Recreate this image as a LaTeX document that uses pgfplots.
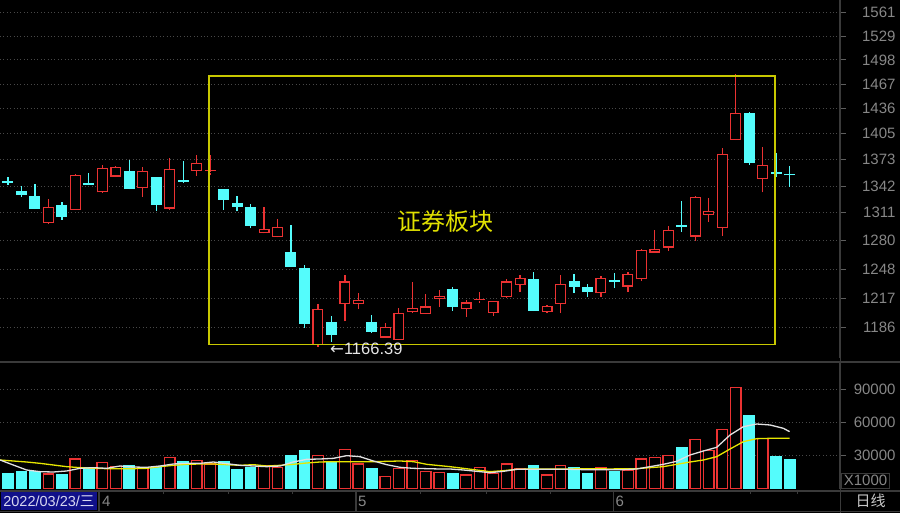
\documentclass[border=0pt]{standalone}
\usepackage{fontspec}
\setmainfont{Liberation Sans}
\newfontfamily\cjk{Noto Sans CJK SC}
\newfontfamily\dejavu{DejaVu Sans}
\usepackage{pgfplots}
\usepackage{pgfplotstable}
\pgfplotsset{compat=1.18}

\definecolor{kup}{RGB}{235,50,50}
\definecolor{kdn}{RGB}{84,252,252}
\definecolor{gridc}{RGB}{72,72,72}
\definecolor{sepc}{RGB}{58,58,58}
\definecolor{axtext}{RGB}{135,135,135}
\definecolor{boxyel}{RGB}{200,200,0}
\definecolor{ttlyel}{RGB}{225,225,0}
\definecolor{ma5}{RGB}{225,225,225}
\definecolor{ma10}{RGB}{230,230,0}
\definecolor{datebg}{RGB}{16,16,138}
\definecolor{datefg}{RGB}{215,215,240}

\newcommand\tf{\fontsize{15pt}{15pt}\selectfont}

% daily bars: index, open, high, low, close, volume (x1000)
\pgfplotstableread{
x o h l c v
0 1348.3 1352.2 1343.3 1345.3 14190
1 1336.6 1342.4 1328.9 1331.2 15360
2 1330.7 1344.4 1315.0 1315.4 16000
3 1299.1 1326.6 1298.0 1318.1 13550
4 1319.7 1323.8 1302.8 1306.0 12900
5 1314.3 1356.0 1314.0 1355.4 27100
6 1345.3 1357.0 1342.5 1343.0 19600
7 1334.3 1366.8 1334.0 1363.6 23800
8 1353.0 1365.6 1352.5 1364.1 20150
9 1359.7 1372.9 1338.0 1338.2 20800
10 1339.7 1364.1 1328.9 1359.3 19600
11 1352.3 1352.6 1313.5 1319.7 19000
12 1315.8 1374.9 1314.3 1362.1 28300
13 1349.5 1372.1 1345.3 1347.1 24400
14 1359.3 1378.9 1354.2 1369.7 25900
15 1359.5 1378.9 1355.0 1360.3 22600
16 1338.2 1338.5 1314.3 1325.8 24400
17 1322.7 1330.7 1312.4 1317.5 17800
18 1317.0 1321.2 1293.3 1296.3 19000
19 1287.8 1318.1 1287.5 1292.9 20800
20 1283.3 1303.9 1283.0 1295.2 19600
21 1266.7 1297.1 1250.5 1250.8 30400
22 1249.4 1252.3 1185.4 1189.8 34300
23 1168.0 1210.7 1166.39 1205.8 30100
24 1192.0 1198.2 1171.0 1178.3 24400
25 1210.7 1241.6 1192.3 1234.6 35900
26 1210.7 1222.0 1205.2 1215.2 22600
27 1191.7 1199.2 1180.2 1181.6 18700
28 1175.7 1190.7 1175.5 1186.5 11100
29 1173.3 1206.8 1173.0 1201.6 18700
30 1202.0 1233.5 1201.0 1206.8 25600
31 1200.0 1221.3 1199.8 1208.0 15600
32 1216.1 1225.0 1207.3 1219.6 14700
33 1226.7 1228.5 1203.7 1207.3 14200
34 1205.2 1215.0 1197.4 1212.2 12650
35 1215.5 1223.1 1211.4 1216.0 19600
36 1201.0 1214.0 1198.5 1213.6 14200
37 1217.8 1237.4 1217.5 1234.6 22600
38 1230.9 1241.5 1223.8 1238.2 18070
39 1237.2 1244.6 1203.0 1203.7 21400
40 1202.0 1209.5 1201.5 1209.0 12650
41 1210.4 1241.1 1201.0 1231.6 21400
42 1235.6 1242.4 1222.0 1228.5 19600
43 1229.2 1231.8 1217.8 1223.1 14200
44 1222.0 1240.0 1218.4 1238.2 19250
45 1236.4 1243.5 1227.4 1234.3 15360
46 1229.2 1244.6 1223.1 1242.4 17170
47 1237.4 1270.5 1235.0 1269.2 27100
48 1266.2 1291.5 1266.0 1270.3 28300
49 1271.8 1296.0 1268.4 1291.2 30100
50 1297.1 1325.0 1288.9 1294.5 37300
51 1284.0 1330.0 1279.5 1329.6 44900
52 1308.5 1327.8 1300.9 1313.5 34600
53 1293.4 1386.9 1285.1 1380.1 53900
54 1397.0 1480.0 1396.8 1430.7 91900
55 1430.7 1431.0 1366.9 1368.9 66600
56 1349.9 1388.1 1334.3 1366.9 45500
57 1358.9 1381.6 1353.0 1355.8 29500
58 1355.5 1365.6 1341.3 1354.5 26200
}\kdata

\pgfplotsset{
  kpanel/.style={
    scale only axis, anchor=south west, width=840pt,
    xmin=-0.5936, xmax=61.739,
    axis x line=none, axis y line*=right,
    y axis line style={draw=sepc, line width=1.2pt},
    tick align=outside, major tick length=6pt,
    ytick style={draw=axtext!70!black, line width=0.8pt},
    ymajorgrids,
    major grid style={draw=gridc, dash pattern=on 1pt off 2.4pt, line width=0.8pt},
    yticklabel style={font=\tf, text=axtext, anchor=east, xshift=53pt},
    /pgf/number format/assume math mode=true,
  },
  upsel/.style={restrict expr to domain={\thisrow{c}-\thisrow{o}}{0:10000}},
  dnsel/.style={restrict expr to domain={\thisrow{c}-\thisrow{o}}{-10000:-0.0001}},
  kbar/.style 2 args={draw=none, forget plot,
    error bars/.cd, y dir=plus, y explicit, error mark=none,
    error bar style={draw=#1, line width=#2}},
}

\begin{document}
\begin{tikzpicture}[x=1pt,y=1pt]
\fill[black] (0,0) rectangle (900,513);

% price panel: wicks, then bodies (hollow red up, filled cyan down)
\begin{axis}[kpanel, at={(0pt,155pt)}, height=358pt,
  ymode=log, ymin=1155.0, ymax=1578.6,
  ytick={1186,1217,1248,1280,1311,1342,1373,1405,1436,1467,1498,1529,1561},
  yticklabels={1186,1217,1248,1280,1311,1342,1373,1405,1436,1467,1498,1529,1561}]
\addplot[upsel, kbar={kup}{1.2pt}]
  table[x=x, y=l, y error plus expr=\thisrow{h}-\thisrow{l}] {\kdata};
\addplot[dnsel, kbar={kdn}{1.2pt}]
  table[x=x, y=l, y error plus expr=\thisrow{h}-\thisrow{l}] {\kdata};
\addplot[upsel, kbar={kup}{11pt}]
  table[x=x, y=o, y error plus expr=\thisrow{c}-\thisrow{o}] {\kdata};
\addplot[upsel, error bars/error bar style={shorten <=1.2pt, shorten >=1.2pt}, kbar={black}{8.6pt}]
  table[x=x, y=o, y error plus expr=\thisrow{c}-\thisrow{o}] {\kdata};
\addplot[dnsel, kbar={kdn}{11pt}]
  table[x=x, y=c, y error plus expr=\thisrow{o}-\thisrow{c}] {\kdata};
\end{axis}

% volume panel
\begin{axis}[kpanel, at={(0pt,24pt)}, height=126pt,
  ymin=0, ymax=113850, scaled y ticks=false,
  ytick={30000,60000,90000}, yticklabels={30000,60000,90000}]
\addplot[upsel, ybar, bar width=0.79, bar shift=0pt, draw=kup, fill=black, line width=1.2pt]
  table[x=x, y=v] {\kdata};
\addplot[dnsel, ybar, bar width=0.79, bar shift=0pt, draw=kdn, fill=kdn, line width=1.2pt]
  table[x=x, y=v] {\kdata};
% MA10
\addplot[ma10, line width=1.3pt] coordinates {
(-0.59,26200) (0.39,25300) (1.38,24400) (2.37,23190) (3.36,21690) (4.35,20180)
(5.34,19280) (6.33,18670) (7.32,18370) (8.31,18370) (9.30,18370) (10.29,18670)
(11.28,20180) (12.27,21380) (13.26,22290) (14.25,22590) (15.24,22590) (16.23,21990)
(17.22,21380) (18.21,21990) (19.20,20780) (20.19,21380) (21.17,22290) (22.16,23490)
(23.15,24400) (24.14,24700) (25.13,24700) (26.12,24700) (27.11,24700) (28.10,25000)
(29.09,25300) (30.08,24700) (31.07,22290) (32.06,21080) (32.80,20180) (33.79,18670)
(34.78,17170) (35.77,15660) (36.76,16560) (37.75,17770) (38.74,18070) (39.72,18070)
(40.71,18070) (41.70,18070) (42.69,18370) (43.68,18370) (44.67,18070) (45.66,18370)
(46.65,18370) (47.64,19280) (48.63,20180) (49.62,22290) (50.61,24400) (51.60,26200)
(52.59,29210) (53.58,36140) (54.57,42770) (55.56,45480) (56.55,45780) (57.54,45780)
(58.00,45780)};
% MA5
\addplot[ma5, line width=1.3pt] coordinates {
(-0.59,26200) (0.39,21690) (1.38,17170) (2.37,15660) (3.36,15360) (4.35,16260)
(5.34,18670) (6.33,19280) (7.32,18670) (8.31,20780) (9.30,19880) (10.29,19580)
(11.28,20780) (12.27,22590) (13.26,23190) (14.25,23190) (15.24,24400) (16.23,22890)
(17.22,21380) (18.21,20780) (19.20,20180) (20.19,20780) (21.17,24400) (22.16,26810)
(23.15,27110) (24.14,27710) (25.13,30120) (26.12,29210) (27.11,25300) (28.10,21990)
(29.09,19580) (30.08,18670) (31.07,18370) (32.06,18070) (32.80,18070) (33.79,17170)
(34.78,15960) (35.77,14760) (36.76,15960) (37.75,17770) (38.74,17770) (39.72,17770)
(40.71,17770) (41.70,17770) (42.69,17470) (43.68,17470) (44.67,17470) (45.66,17470)
(46.65,18070) (47.64,20180) (48.63,22290) (49.62,25000) (50.61,30720) (51.60,34340)
(52.59,37650) (53.58,48790) (54.57,56320) (55.56,58730) (56.55,57830) (57.54,54820)
(58.00,51800)};
\end{axis}

% frame and separators
\draw[sepc, line width=2pt] (0,151) -- (900,151);
\draw[sepc, line width=1.2pt] (0,22) -- (900,22);
\draw[sepc, line width=1pt] (0,1.3) -- (900,1.3);
\draw[sepc, line width=1.2pt] (840.7,0) -- (840.7,513);
\foreach \xx in {99,356,613.3} \draw[sepc, line width=1.2pt] (\xx,1.3) -- (\xx,22);
\foreach \xx in {163,228,292,420,486,550,750,797} \draw[sepc, line width=1pt] (\xx,22) -- (\xx,19);

% annotations
\draw[boxyel, line width=1.5pt] (209,437) rectangle (775,168.5);
\node[text=ttlyel, font=\cjk\fontsize{24pt}{24pt}\selectfont] at (445,292) {证券板块};
\node[anchor=west, inner sep=0pt, text=white!80!gray, font=\fontsize{16.5pt}{16.5pt}\selectfont] at (330,164) {{\dejavu\char"2190}1166.39};

% bottom strip
\node[anchor=south west, fill=datebg, text=datefg, inner sep=0pt, minimum width=96pt,
  minimum height=18pt, font=\fontsize{14.5pt}{14.5pt}\selectfont] at (0.7,3) {2022/03/23/{\cjk 三}};
\node[anchor=west, inner sep=0pt, text=axtext, font=\tf] at (102,11.5) {4};
\node[anchor=west, inner sep=0pt, text=axtext, font=\tf] at (358,11.5) {5};
\node[anchor=west, inner sep=0pt, text=axtext, font=\tf] at (615.5,11.5) {6};
\node[text=white!78!black, font=\cjk\fontsize{15pt}{15pt}\selectfont] at (870.5,12) {日线};
\node[draw=sepc, line width=1pt, text=axtext, inner sep=0pt, minimum width=47.6pt,
  minimum height=15pt, font=\tf] at (865.5,32.2) {X1000};

\pgfresetboundingbox
\path[use as bounding box] (0,0) rectangle (900,513);
\end{tikzpicture}
\end{document}
